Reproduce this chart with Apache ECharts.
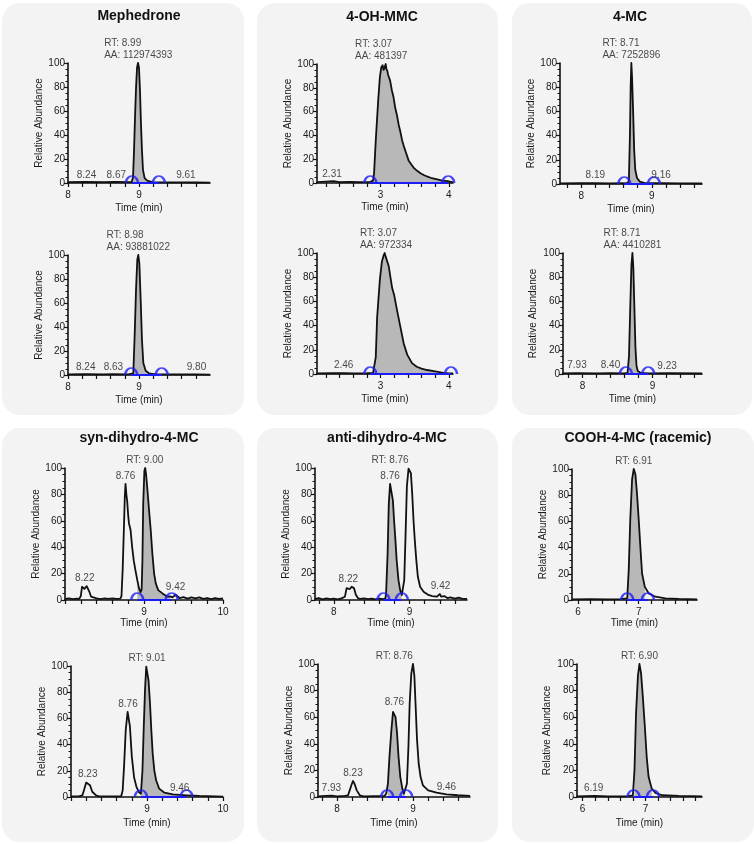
<!DOCTYPE html>
<html lang="en">
<head>
<meta charset="UTF-8">
<title>Chromatograms</title>
<script src="https://cdn.jsdelivr.net/npm/echarts@6.0.0/dist/echarts.min.js"></script>
<style>
  html, body { margin: 0; padding: 0; background: #fff; }
  #main { width: 754px; height: 844px; }
</style>
</head>
<body>
<div id="main"></div>
<script type="text/javascript">
// ---- data: [time (min), relative abundance] ----
var mephTop = [[8.0,0.8],[8.24,1],[8.5,0.8],[8.67,1],[8.85,0.8],[8.898,0.8],[8.916,5],[8.93,27],[8.944,55],[8.958,79],[8.972,96],[8.986,100],[9.0,96],[9.014,77],[9.028,49],[9.042,27],[9.056,11],[9.079,4],[9.116,2],[9.186,0.8],[9.3,0.5],[9.61,0.6],[9.8,0.4],[10,0.3]];
var mephBot = [[8.0,0.6],[8.24,0.8],[8.5,0.6],[8.63,0.8],[8.85,0.6],[8.92,1.4],[8.94,35],[8.958,71],[8.976,96],[8.99,100],[9.005,93],[9.024,62],[9.042,29],[9.061,10],[9.094,3.6],[9.14,1.4],[9.236,0.6],[9.5,0.5],[9.8,0.6],[10,0.3]];
var ohTop = [[2.07,0.8],[2.2,1.2],[2.31,1.5],[2.4,0.8],[2.55,1.0],[2.7,0.7],[2.85,0.9],[2.89,2],[2.905,8],[2.93,36],[2.965,69],[2.99,89],[3.01,97],[3.03,99],[3.045,95],[3.06,97],[3.075,100],[3.085,96],[3.1,94],[3.11,91],[3.14,86],[3.165,78],[3.19,72],[3.215,63],[3.24,57],[3.265,49],[3.29,43],[3.315,36],[3.34,31],[3.375,25],[3.41,19],[3.45,15.5],[3.49,12.5],[3.54,10],[3.59,8],[3.64,6.5],[3.68,5.5],[3.75,4],[3.83,3],[3.9,2],[3.98,1.5],[4.06,0.5]];
var ohBot = [[2.07,0.5],[2.3,0.6],[2.46,0.8],[2.6,0.5],[2.8,0.6],[2.89,0.8],[2.93,14],[2.95,47],[2.99,78],[3.02,93],[3.045,98],[3.06,100],[3.075,97],[3.09,96],[3.12,89],[3.15,78],[3.17,71],[3.2,65],[3.24,53],[3.29,39],[3.34,25],[3.39,16],[3.46,9],[3.53,6],[3.6,4.5],[3.68,3.3],[3.82,2],[3.92,1],[4.0,0.5],[4.06,0.4]];
var mcTop = [[7.7,0.5],[8.0,0.6],[8.19,0.8],[8.4,0.5],[8.6,0.6],[8.66,1],[8.675,3],[8.69,40],[8.70,80],[8.71,100],[8.72,88],[8.735,60],[8.75,28],[8.765,12],[8.79,5],[8.83,2],[8.9,0.8],[9.16,0.8],[9.4,0.5],[9.71,0.4]];
var mcBot = [[7.71,0.5],[7.93,0.8],[8.2,0.5],[8.40,0.8],[8.6,0.5],[8.645,1],[8.665,15],[8.685,60],[8.70,90],[8.714,100],[8.727,88],[8.742,55],[8.757,22],[8.772,7],[8.79,2.5],[8.83,1],[8.95,0.5],[9.23,0.6],[9.71,0.4]];
var synTop = [[8.0,0.8],[8.05,1.2],[8.1,0.6],[8.15,1],[8.18,0.8],[8.20,3],[8.215,10],[8.23,9.5],[8.245,8.5],[8.26,9],[8.275,10.5],[8.29,9],[8.31,6],[8.33,2.5],[8.35,1],[8.4,1.3],[8.45,0.7],[8.5,1.2],[8.55,0.8],[8.6,1.3],[8.65,0.8],[8.70,1],[8.715,3],[8.73,23],[8.745,53],[8.757,78],[8.766,88],[8.777,80],[8.787,75],[8.80,64],[8.81,58],[8.83,53],[8.85,40],[8.87,30],[8.89,23],[8.915,15],[8.936,9],[8.957,6],[8.97,8],[8.98,30],[8.99,73],[9.005,98],[9.015,100],[9.025,96],[9.04,86],[9.064,68],[9.085,53],[9.106,35],[9.128,20],[9.149,12.6],[9.18,7.5],[9.234,5],[9.27,3.5],[9.30,2.5],[9.33,2.8],[9.36,2],[9.38,3.5],[9.40,4],[9.42,3],[9.45,1.5],[9.5,2.2],[9.55,1],[9.6,2],[9.65,1.2],[9.7,2],[9.75,0.8],[9.8,1.5],[9.85,0.7],[9.9,1.5],[9.95,0.8],[10,1.2]];
var synBot = [[8.0,0.5],[8.1,0.5],[8.15,1.3],[8.17,5],[8.20,11],[8.22,11.5],[8.25,9],[8.28,4],[8.33,1.3],[8.37,0.5],[8.5,0.5],[8.66,0.5],[8.68,5],[8.70,25.5],[8.72,51],[8.745,65],[8.76,64],[8.775,54],[8.80,31],[8.83,15],[8.86,8],[8.89,4],[8.92,2.5],[8.94,20],[8.956,51],[8.974,82],[8.99,99.5],[9.004,100],[9.02,89],[9.04,71],[9.057,51],[9.075,33],[9.097,20],[9.12,12.8],[9.16,6.4],[9.23,3.3],[9.34,2],[9.52,1.3],[9.69,0.8],[10,0.3]];
var antiTop = [[7.75,0.8],[7.8,1.5],[7.85,0.5],[7.9,1.2],[7.95,0.6],[8.0,1],[8.05,0.5],[8.1,1.2],[8.146,2.5],[8.168,9],[8.19,10],[8.21,8.3],[8.235,10],[8.265,9],[8.29,4],[8.32,1.3],[8.35,0.8],[8.4,1.2],[8.45,0.6],[8.5,1],[8.55,0.5],[8.6,1],[8.65,0.7],[8.68,1],[8.69,5],[8.71,35],[8.726,73],[8.743,88],[8.76,82],[8.78,75.5],[8.796,60],[8.814,45],[8.83,30],[8.854,15],[8.876,7.5],[8.898,3.8],[8.91,3],[8.93,15],[8.947,48],[8.965,86],[8.987,99.5],[9.0,100],[9.018,96],[9.035,81],[9.053,60],[9.07,45],[9.09,30],[9.11,17.6],[9.14,10],[9.186,6.3],[9.25,3.8],[9.3,3],[9.36,2.5],[9.40,4.5],[9.42,2.5],[9.46,3],[9.5,1.5],[9.54,2],[9.6,1],[9.65,1.8],[9.7,0.8],[9.76,0.8]];
var antiBot = [[7.75,0.5],[7.85,0.8],[7.93,1],[8.0,0.5],[8.1,0.8],[8.145,1.3],[8.167,5],[8.19,9],[8.21,12],[8.23,10],[8.26,5],[8.30,1.3],[8.35,0.5],[8.5,0.6],[8.627,0.8],[8.65,3],[8.67,10],[8.69,30],[8.715,50],[8.737,64],[8.755,65.5],[8.77,60],[8.79,48],[8.81,30],[8.833,15],[8.86,6.3],[8.88,2.5],[8.9,1.5],[8.92,10],[8.94,38],[8.956,70],[8.978,93],[9.0,100],[9.018,91],[9.035,68],[9.053,43],[9.075,25],[9.1,15],[9.13,8.8],[9.2,5],[9.31,3.3],[9.44,2],[9.59,1.3],[9.75,0.8]];
var coohTop = [[5.9,0.5],[6.2,0.6],[6.5,0.5],[6.7,0.6],[6.81,1.3],[6.835,23],[6.86,61],[6.89,92],[6.918,100],[6.945,96],[6.97,82],[7.0,61],[7.03,38],[7.055,20],[7.1,10],[7.165,5],[7.275,2.5],[7.44,1.3],[7.66,0.8],[7.96,0.5]];
var coohBot = [[5.91,0.5],[6.19,0.8],[6.4,0.5],[6.7,0.5],[6.80,1.3],[6.825,20],[6.85,63],[6.88,91],[6.904,100],[6.93,93],[6.957,76],[6.99,53],[7.02,30],[7.05,15],[7.1,6.3],[7.16,3],[7.27,1.3],[7.53,0.8],[7.9,0.5]];

// integration limits (blue markers), [start, end]
var limits = [[8.90,9.28],[8.89,9.32],[2.85,3.99],[2.85,4.03],[8.61,9.03],[8.62,8.94],
              [8.915,9.35],[8.92,9.52],[8.655,8.898],[8.66,8.91],[6.81,7.15],[6.81,7.12]];

// peak annotations: [time, abundance, text]
var mephTopLab = [[8.26,0.5,'8.24'],[8.68,0.5,'8.67'],[9.66,0.5,'9.61'],[8.99,100,'RT: 8.99\nAA: 112974393']];
var mephBotLab = [[8.25,0.5,'8.24'],[8.64,0.5,'8.63'],[9.81,0.5,'9.80'],[8.99,100,'RT: 8.98\nAA: 93881022']];
var ohTopLab = [[2.29,1,'2.31'],[3.01,100,'RT: 3.07\nAA: 481397']];
var ohBotLab = [[2.46,0.8,'2.46'],[3.08,100,'RT: 3.07\nAA: 972334']];
var mcTopLab = [[8.20,0.8,'8.19'],[9.13,0.8,'9.16'],[8.71,100,'RT: 8.71\nAA: 7252896']];
var mcBotLab = [[7.92,0.8,'7.93'],[8.40,0.8,'8.40'],[9.21,0.6,'9.23'],[8.715,100,'RT: 8.71\nAA: 4410281']];
var synTopLab = [[8.25,10.5,'8.22'],[8.766,88,'8.76'],[9.01,100,'RT: 9.00'],[9.40,4,'9.42']];
var synBotLab = [[8.22,11.5,'8.23'],[8.75,65,'8.76'],[9.0,100,'RT: 9.01'],[9.43,1.3,'9.46']];
var antiTopLab = [[8.19,10,'8.22'],[8.743,88,'8.76'],[8.743,100,'RT: 8.76'],[9.41,4.5,'9.42']];
var antiBotLab = [[7.925,1,'7.93'],[8.21,12,'8.23'],[8.755,65.5,'8.76'],[8.755,100,'RT: 8.76'],[9.44,2,'9.46']];
var coohTopLab = [[6.918,100,'RT: 6.91']];
var coohBotLab = [[6.175,0.8,'6.19'],[6.904,100,'RT: 6.90']];

// axis ranges and tick labels
var xRanges = [[8,10],[8,10],[2.07,4.06],[2.07,4.06],[7.7,9.71],[7.72,9.71],
               [8,10],[8,10],[7.75,9.76],[7.75,9.75],[5.9,7.96],[5.91,7.9]];
var ticks810 = [8,8.2,8.4,8.6,8.8,9,9.2,9.4,9.6,9.8];
var ticks810b = [8,8.2,8.4,8.6,8.8,9,9.2,9.4,9.6,9.8,10];
var ticks24 = [2.2,2.4,2.6,2.8,3,3.2,3.4,3.6,3.8,4];
var ticks7896 = [7.8,8,8.2,8.4,8.6,8.8,9,9.2,9.4,9.6];
var ticks678 = [6,6.2,6.4,6.6,6.8,7,7.2,7.4,7.6,7.8];
var xTicks = [ticks810,ticks810,ticks24,ticks24,ticks7896,ticks7896,
              ticks810b,ticks810b,ticks7896,ticks7896,ticks678,ticks678];
var xTickLabels = [[8,9],[8,9],[3,4],[3,4],[8,9],[8,9],[9,10],[9,10],[8,9],[8,9],[6,7],[6,7]];

var titles = ['Mephedrone','4-OH-MMC','4-MC','syn-dihydro-4-MC','anti-dihydro-4-MC','COOH-4-MC (racemic)'];

var traces = [mephTop,mephBot,ohTop,ohBot,mcTop,mcBot,synTop,synBot,antiTop,antiBot,coohTop,coohBot];
var labels = [mephTopLab,mephBotLab,ohTopLab,ohBotLab,mcTopLab,mcBotLab,synTopLab,synBotLab,antiTopLab,antiBotLab,coohTopLab,coohBotLab];

// ---- layout (pixels) ----
var grids = [
  [68,63,142,120],[68,255,142,120],[317,64,136,119],[317,253,136,121],[560,63,142,121],[563,253,139,121],
  [65,468,158,132],[71,666,152,131],[315,468,152,132],[318,664,152,133],[572,469,125,131],[577,664,125,133]
];
var xNameGap = [20,20,19,20,20,20,16,21,17,21,17,21];
var yNameGap = [23,23,23,24,22,25,20,23,21,24,23,25];
var panels = [[2,3,242,412],[257,3,241,412],[512,3,240,412],[2,428,242,414],[257,428,241,414],[512,428,242,414]];
var titlePos = [[139,16],[382,17],[630,17],[139,438],[387,438],[638,438]];

var FONT = '"Liberation Sans", Arial, Helvetica, sans-serif';
var INK = '#111';
var TXT = '#1a1a1a';
var BLUE = '#1c1cf5';
var FILL = '#b8b8b8';
var ARC = 'path://M0,10 A10,10 0 0 1 20,10';

var myChart = echarts.init(document.getElementById('main'));

var option = {
  animation: false,
  textStyle: { fontFamily: FONT },
  grid: [], xAxis: [], yAxis: [], series: [],
  graphic: { elements: [] }
};

panels.forEach(function (p) {
  option.graphic.elements.push({
    type: 'rect', z: -100, silent: true,
    shape: { x: p[0], y: p[1], width: p[2], height: p[3], r: 18 },
    style: { fill: '#f3f3f3' }
  });
});
titles.forEach(function (t, i) {
  option.graphic.elements.push({
    type: 'text', z: 100, x: titlePos[i][0], y: titlePos[i][1],
    style: { text: t, fontFamily: FONT, fontSize: 14, fontWeight: 'bold', fill: '#111',
             align: 'center', verticalAlign: 'middle' }
  });
});

function richText(s) {
  return s.split('\n').map(function (l) { return '{a|' + l + '}'; }).join('\n');
}

traces.forEach(function (trace, i) {
  var g = grids[i];
  var lo = limits[i][0], hi = limits[i][1];
  option.grid.push({ left: g[0], top: g[1], width: g[2], height: g[3] });
  option.xAxis.push({
    gridIndex: i, type: 'value', min: xRanges[i][0], max: xRanges[i][1],
    name: 'Time (min)', nameLocation: 'middle', nameGap: xNameGap[i],
    nameTextStyle: { fontSize: 10, color: TXT, fontFamily: FONT },
    axisLine: { onZero: false, lineStyle: { color: INK, width: 1.6 } },
    axisTick: { customValues: xTicks[i], length: 4, lineStyle: { color: INK, width: 1.2 } },
    axisLabel: { customValues: xTickLabels[i], fontSize: 10, color: TXT, margin: 7 },
    splitLine: { show: false }
  });
  option.yAxis.push({
    gridIndex: i, type: 'value', min: 0, max: 100, interval: 20,
    name: 'Relative Abundance', nameLocation: 'middle', nameGap: yNameGap[i],
    nameTextStyle: { fontSize: 10, color: TXT, fontFamily: FONT },
    axisLine: { show: true, lineStyle: { color: INK, width: 1.6 } },
    axisTick: { show: true, length: 4, lineStyle: { color: INK, width: 1.2 } },
    minorTick: { show: true, splitNumber: 4, length: 2.5, lineStyle: { color: INK, width: 1 } },
    axisLabel: { fontSize: 10, color: TXT, margin: 3 },
    splitLine: { show: false }
  });

  // grey integrated area
  option.series.push({
    type: 'line', xAxisIndex: i, yAxisIndex: i, z: 2, silent: true,
    data: trace.filter(function (p) { return p[0] >= lo && p[0] <= hi; }),
    showSymbol: false, lineStyle: { width: 0 },
    areaStyle: { color: FILL, opacity: 1 }
  });
  // chromatogram trace
  option.series.push({
    type: 'line', xAxisIndex: i, yAxisIndex: i, z: 3, silent: true,
    data: trace, showSymbol: false,
    lineStyle: { color: INK, width: 1.8, join: 'round' }
  });
  // baseline between integration limits
  option.series.push({
    type: 'line', xAxisIndex: i, yAxisIndex: i, z: 4, silent: true,
    data: [[lo, 0], [hi, 0]], showSymbol: false,
    lineStyle: { color: BLUE, width: 2 }
  });
  // open half-circle markers
  option.series.push({
    type: 'scatter', xAxisIndex: i, yAxisIndex: i, z: 5, silent: true, clip: false,
    data: [[lo, 0], [hi, 0]],
    symbol: ARC, symbolSize: [12, 7], symbolOffset: [0, -3.5],
    itemStyle: { color: 'rgba(0,0,0,0)', borderColor: BLUE, borderWidth: 2 }
  });
  // peak annotations
  option.series.push({
    type: 'scatter', xAxisIndex: i, yAxisIndex: i, z: 6, silent: true, clip: false,
    symbolSize: 1, itemStyle: { color: 'rgba(0,0,0,0)' },
    data: labels[i].map(function (d) { return { value: [d[0], d[1]], txt: d[2] }; }),
    label: {
      show: true, position: 'top', distance: 1, align: 'center',
      formatter: function (p) { return richText(p.data.txt); },
      rich: { a: { align: 'left', fontSize: 10, lineHeight: 12, color: TXT, fontFamily: FONT } }
    }
  });
});

myChart.setOption(option, true);
</script>
</body>
</html>
